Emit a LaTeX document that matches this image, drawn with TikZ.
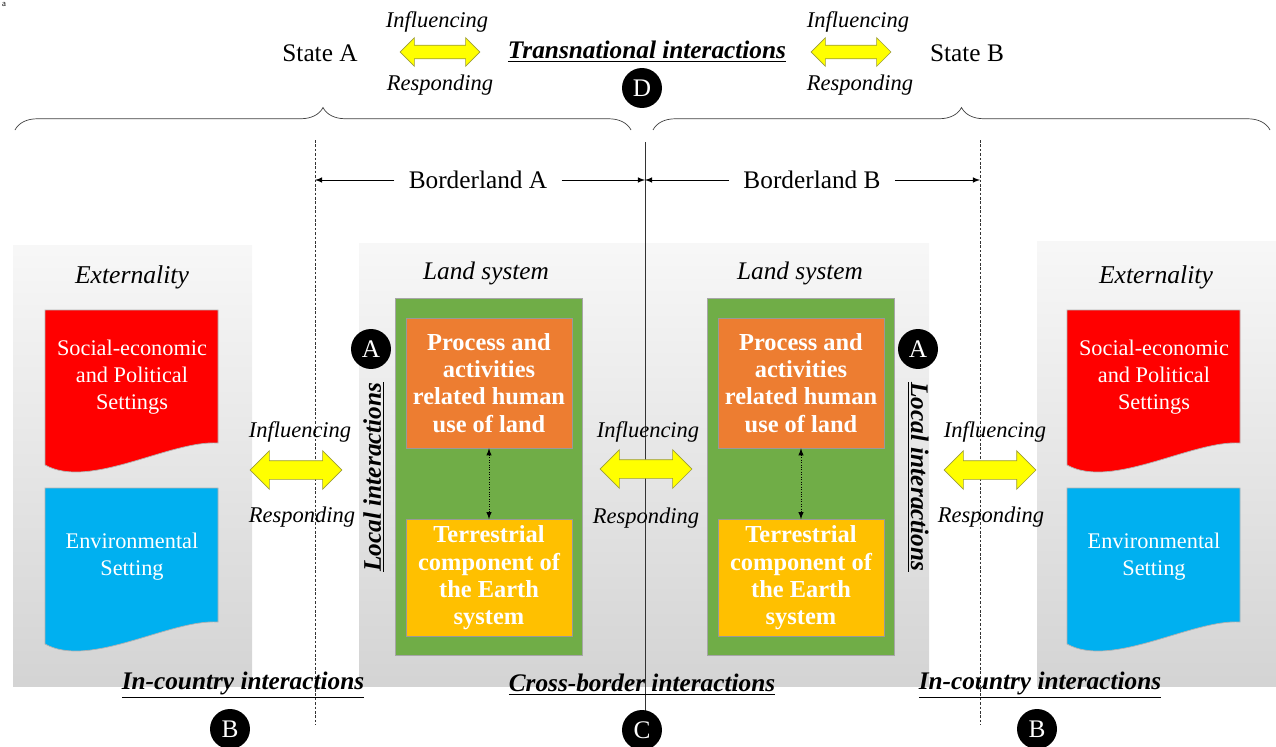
\documentclass[tikz,border=0pt]{standalone}
\usepackage{fontspec}
\setmainfont{Liberation Serif}
\usetikzlibrary{arrows,shapes.arrows,decorations.pathreplacing}
\definecolor{setred}{HTML}{FF0000}
\definecolor{setblue}{HTML}{00B0F0}
\definecolor{useorange}{HTML}{ED7D31}
\definecolor{earthyellow}{HTML}{FFC000}
\definecolor{landgreen}{HTML}{70AD47}
\definecolor{arrowyellow}{HTML}{FFFF00}
\definecolor{arrowedge}{HTML}{9C9C3A}

\begin{document}
\begin{tikzpicture}[x=0.02cm,y=-0.02cm,
  lbl/.style={font=\fontsize{14.4}{17}\selectfont},
  act/.style={font=\fontsize{12.8}{15}\selectfont\itshape},
  head/.style={font=\fontsize{14.4}{17}\selectfont\bfseries\itshape},
  badge/.style={circle,fill=black,text=white,minimum size=0.8cm,inner sep=0pt,font=\fontsize{14.4}{17}\selectfont},
  twoway/.style={double arrow,fill=arrowyellow,draw=arrowedge,inner xsep=0pt,inner ysep=0.18cm,double arrow head extend=0.2cm,minimum height=1.84cm},
  twowaytop/.style={twoway,inner ysep=0.13cm,double arrow head extend=0.15cm,minimum height=1.6cm},
  panel/.style={top color=black!3,bottom color=black!17},
  sheettext/.style={text=white,align=center,font=\fontsize{12.7}{15.3}\selectfont},
  landbox/.style={fill=landgreen,draw=black!35,minimum width=3.74cm,minimum height=7.14cm},
  usebox/.style={fill=useorange,draw=black!40,text=white,align=center,minimum width=3.32cm,minimum height=2.6cm,font=\fontsize{13.9}{15.5}\selectfont\bfseries},
  earthbox/.style={usebox,fill=earthyellow,minimum height=2.34cm},
  bracket/.style={decorate,decoration={brace,amplitude=0.45cm},draw=black!75},
  borderline/.style={draw=black!80,dash pattern=on 1.5pt off 1pt}]
\useasboundingbox (0,0) rectangle (1276,747);

\shade[panel] (13,245) rectangle (252,686);
\shade[panel] (359,243) rectangle (929,686);
\shade[panel] (1037,241) rectangle (1276,686);

\node[font=\tiny] (a) at (4,4) {a};

\node[lbl] (stA) at (320,53) {State A};
\node[lbl] (stB) at (967,53) {State B};
\node[act] (infTA) at (437,22) {Influencing};
\node[act] (resTA) at (440,85) {Responding};
\node[twowaytop] (arTA) at (440,52) {};
\node[act] (infTB) at (858,22) {Influencing};
\node[act] (resTB) at (860,85) {Responding};
\node[twowaytop] (arTB) at (851,52) {};
\node[head] (trans) at (647,52) {\underline{Transnational interactions}};

\coordinate (brAl) at (15,130);
\coordinate (brAr) at (631,130);
\coordinate (brBl) at (653,130);
\coordinate (brBr) at (1270,130);
\draw[bracket] (brAl) -- (brAr);
\draw[bracket] (brBl) -- (brBr);
\node[badge] (D) at (642,88) {D};

\coordinate (dashAt) at (315,140);
\coordinate (dashAb) at (315,725);
\coordinate (dashBt) at (980,140);
\coordinate (dashBb) at (980,725);
\coordinate (bordt) at (645,142);
\coordinate (bordb) at (645,747);
\coordinate (dashA) at (315,180);
\coordinate (bord) at (645,180);
\coordinate (dashB) at (980,180);
\draw[borderline] (dashAt) -- (dashAb);
\draw[borderline] (dashBt) -- (dashBb);
\draw[black!80] (bordt) -- (bordb);

\node[lbl,inner xsep=8pt] (bdA) at (478,180) {Borderland A};
\node[lbl,inner xsep=8pt] (bdB) at (812,180) {Borderland B};
\draw [-latex] (bdA) edge (dashA);
\draw [-latex] (bdA) edge (bord);
\draw [-latex] (bdB) edge (bord);
\draw [-latex] (bdB) edge (dashB);

\node[lbl,font=\fontsize{14.6}{17}\selectfont\itshape] (extA) at (132,277) {Externality};
\node[lbl,font=\fontsize{14.6}{17}\selectfont\itshape] (extB) at (1156,277) {Externality};
\filldraw[fill=setred,draw=black!30] (45,310) -- (218,310) -- (218,443) .. controls (170,440) and (90,490) .. (45,465) -- cycle;
\filldraw[fill=setblue,draw=black!30] (45,488) -- (218,488) -- (218,622) .. controls (170,619) and (90,669) .. (45,644) -- cycle;
\filldraw[fill=setred,draw=black!30] (1067,310) -- (1240,310) -- (1240,443) .. controls (1192,440) and (1112,490) .. (1067,465) -- cycle;
\filldraw[fill=setblue,draw=black!30] (1067,488) -- (1240,488) -- (1240,622) .. controls (1192,619) and (1112,669) .. (1067,644) -- cycle;
\node[sheettext] (socA) at (132,377) {Social-economic\\and Political\\Settings};
\node[sheettext] (envA) at (132,557) {Environmental\\Setting};
\node[sheettext] (socB) at (1154,377) {Social-economic\\and Political\\Settings};
\node[sheettext] (envB) at (1154,557) {Environmental\\Setting};

\node[lbl,font=\fontsize{14.4}{17}\selectfont\itshape] (lsA) at (486,273) {Land system};
\node[lbl,font=\fontsize{14.4}{17}\selectfont\itshape] (lsB) at (800,273) {Land system};
\node[landbox] (grA) at (489,477) {};
\node[landbox] (grB) at (801,477) {};
\node[usebox] (useA) at (489,383) {Process and\\activities\\related human\\use of land};
\node[earthbox] (earA) at (489,578) {Terrestrial\\component of\\the Earth\\system};
\node[usebox] (useB) at (801,383) {Process and\\activities\\related human\\use of land};
\node[earthbox] (earB) at (801,578) {Terrestrial\\component of\\the Earth\\system};
\draw [latex-latex, densely dotted] (useA) edge (earA);
\draw [latex-latex, densely dotted] (useB) edge (earB);

\node[badge] (AA) at (371,349) {A};
\node[badge] (AB) at (918,349) {A};
\node[head,rotate=90] (locA) at (374,477) {\underline{Local interactions}};
\node[head,rotate=-90] (locB) at (918,477) {\underline{Local interactions}};

\node[act] (infA) at (300,432) {Influencing};
\node[act] (resA) at (302,517) {Responding};
\node[twoway] (arA) at (296,470) {};
\node[act] (infC) at (648,432) {Influencing};
\node[act] (resC) at (646,518) {Responding};
\node[twoway] (arC) at (646,469) {};
\node[act] (infB) at (995,432) {Influencing};
\node[act] (resB) at (991,517) {Responding};
\node[twoway] (arB) at (990,470) {};

\node[head] (incA) at (243,685) {\underline{In-country interactions}};
\node[head] (cross) at (642,685) {\underline{Cross-border interactions}};
\node[head] (incB) at (1040,685) {\underline{In-country interactions}};
\node[badge] (BA) at (230,729) {B};
\node[badge] (C) at (642,730) {C};
\node[badge] (BB) at (1037,729) {B};
\end{tikzpicture}
\end{document}
